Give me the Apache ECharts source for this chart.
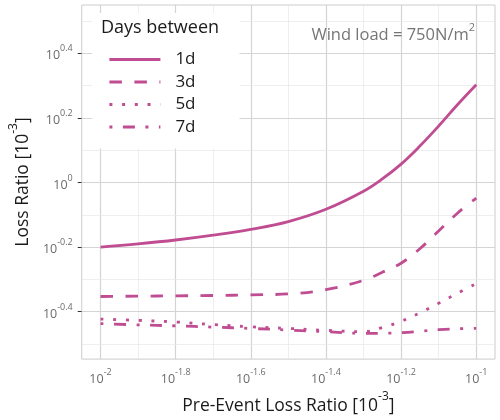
<!DOCTYPE html>
<html>
<head>
<meta charset="utf-8">
<title>Loss ratio vs pre-event loss ratio</title>
<script src="https://cdn.jsdelivr.net/npm/echarts@6/dist/echarts.min.js"></script>
<style>
html, body { margin: 0; padding: 0; background: #fff; }
#chart { width: 500px; height: 420px; }
</style>
</head>
<body>
<div id="chart"></div>
<script type="text/javascript">
// pre-event loss ratio, as log10 exponent
var xExp = [-2, -1.9, -1.8, -1.7, -1.6, -1.5, -1.4, -1.3, -1.25, -1.2, -1.15, -1.1, -1.05, -1];
// loss ratio, as log10 exponent, one list per "days between"
var loss1d = [-0.200, -0.190, -0.178, -0.163, -0.145, -0.121, -0.083, -0.027, 0.011, 0.057, 0.113, 0.175, 0.241, 0.303];
var loss3d = [-0.353, -0.352, -0.351, -0.350, -0.348, -0.345, -0.332, -0.303, -0.278, -0.250, -0.205, -0.150, -0.095, -0.048];
var loss5d = [-0.423, -0.427, -0.432, -0.440, -0.447, -0.452, -0.458, -0.462, -0.449, -0.430, -0.404, -0.374, -0.343, -0.313];
var loss7d = [-0.437, -0.441, -0.444, -0.448, -0.452, -0.457, -0.462, -0.467, -0.467, -0.465, -0.461, -0.456, -0.453, -0.452];
var seriesNames = ['1d', '3d', '5d', '7d'];

var xTicks = [-2, -1.8, -1.6, -1.4, -1.2, -1];
var xMinor = [-1.9, -1.7, -1.5, -1.3, -1.1];
var yTicks = [-0.4, -0.2, 0, 0.2, 0.4];
var yMinor = [-0.5, -0.3, -0.1, 0.1, 0.3, 0.5];

var pink = '#c04d92';
var font = 'Open Sans';

function pairs(ys) {
    return xExp.map(function (x, i) { return [x, ys[i]]; });
}
function expLabel(v) {
    return '{b|10}{s|' + Number(v.toFixed(1)) + '}';
}
var labelRich = {
    b: { fontSize: 12.5, color: '#6b6b6b', fontFamily: font, lineHeight: 18, verticalAlign: 'bottom' },
    s: { fontSize: 9, color: '#6b6b6b', fontFamily: font, lineHeight: 10, verticalAlign: 'top' }
};
var nameRich = {
    n: { fontSize: 17.5, color: '#1a1a1a', fontFamily: font, lineHeight: 24, verticalAlign: 'bottom' },
    s: { fontSize: 12, color: '#1a1a1a', fontFamily: font, lineHeight: 12, verticalAlign: 'top' }
};

var gridLines = [];
xTicks.forEach(function (v) { gridLines.push({ xAxis: v, lineStyle: { color: '#d4d4d4', width: 1.2, type: 'solid' } }); });
xMinor.forEach(function (v) { gridLines.push({ xAxis: v, lineStyle: { color: '#e6e6e6', width: 0.7, type: 'solid' } }); });
yTicks.forEach(function (v) { gridLines.push({ yAxis: v, lineStyle: { color: '#d4d4d4', width: 1.2, type: 'solid' } }); });
yMinor.forEach(function (v) { gridLines.push({ yAxis: v, lineStyle: { color: '#e6e6e6', width: 0.7, type: 'solid' } }); });

var chart = echarts.init(document.getElementById('chart'), null, { renderer: 'canvas' });

var option = {
    animation: false,
    textStyle: { fontFamily: font },
    title: {
        text: 'Days between',
        left: 101,
        top: 19,
        padding: 0,
        textStyle: { fontSize: 18, fontWeight: 'normal', color: '#1a1a1a', fontFamily: font }
    },
    legend: {
        data: seriesNames,
        orient: 'vertical',
        left: 92,
        top: 13,
        backgroundColor: '#ffffff',
        padding: [38, 44, 13, 16],
        itemWidth: 51,
        itemHeight: 14,
        itemGap: 5.5,
        lineStyle: { width: 2.8 },
        itemStyle: { color: 'rgba(0,0,0,0)', borderWidth: 0, opacity: 0 },
        textStyle: { fontSize: 17, color: '#1a1a1a', fontFamily: font, padding: [0, 0, 0, 10] }
    },
    graphic: [{
        type: 'text',
        z: 100,
        style: {
            x: 475,
            y: 33,
            align: 'right',
            verticalAlign: 'middle',
            fill: '#757575',
            text: '{a|Wind load = 750N/m}{s|2}',
            rich: {
                a: { fontSize: 16.5, fill: '#757575', fontFamily: font, lineHeight: 22, verticalAlign: 'bottom' },
                s: { fontSize: 11, fill: '#757575', fontFamily: font, lineHeight: 12, verticalAlign: 'top' }
            }
        }
    }],
    grid: {
        left: 73,
        right: 5,
        top: 5,
        bottom: 56,
        show: true,
        borderColor: '#cccccc',
        borderWidth: 1,
        backgroundColor: '#ffffff'
    },
    xAxis: {
        type: 'value',
        min: -2.05,
        max: -0.95,
        name: '{n|Pre-Event Loss Ratio [10}{s|-3}{n|]}',
        nameLocation: 'middle',
        nameGap: 29,
        nameTextStyle: { rich: nameRich },
        axisLine: { show: false },
        splitLine: { show: false },
        axisTick: { show: true, customValues: xTicks, length: 4, lineStyle: { color: '#333333', width: 1 } },
        axisLabel: { customValues: xTicks, margin: 9, formatter: expLabel, rich: labelRich }
    },
    yAxis: {
        type: 'value',
        min: -0.547,
        max: 0.55,
        name: '{n|Loss Ratio [10}{s|-3}{n|]}',
        nameLocation: 'middle',
        nameGap: 48,
        nameTextStyle: { rich: nameRich },
        axisLine: { show: false },
        splitLine: { show: false },
        axisTick: { show: true, customValues: yTicks, length: 4, lineStyle: { color: '#333333', width: 1 } },
        axisLabel: { customValues: yTicks, margin: 9, formatter: expLabel, rich: labelRich }
    },
    series: [
        {
            name: 'grid',
            type: 'line',
            data: [],
            silent: true,
            markLine: {
                silent: true,
                z: 1,
                symbol: 'none',
                label: { show: false },
                animation: false,
                lineStyle: { type: 'solid' },
                data: gridLines
            }
        },
        {
            name: '1d', type: 'line', data: pairs(loss1d), smooth: 0.4, showSymbol: false, symbol: 'none',
            lineStyle: { color: pink, width: 2.8, type: 'solid' }, itemStyle: { color: pink }
        },
        {
            name: '3d', type: 'line', data: pairs(loss3d), smooth: 0.4, showSymbol: false, symbol: 'none',
            lineStyle: { color: pink, width: 2.8, type: [12.5, 12.5] }, itemStyle: { color: pink }
        },
        {
            name: '5d', type: 'line', data: pairs(loss5d), smooth: 0.4, showSymbol: false, symbol: 'none',
            lineStyle: { color: pink, width: 2.8, type: [3, 9.7] }, itemStyle: { color: pink }
        },
        {
            name: '7d', type: 'line', data: pairs(loss7d), smooth: 0.4, showSymbol: false, symbol: 'none',
            lineStyle: { color: pink, width: 2.8, type: [3, 10.5, 12, 10.5] }, itemStyle: { color: pink }
        }
    ]
};

chart.setOption(option);
</script>
</body>
</html>
